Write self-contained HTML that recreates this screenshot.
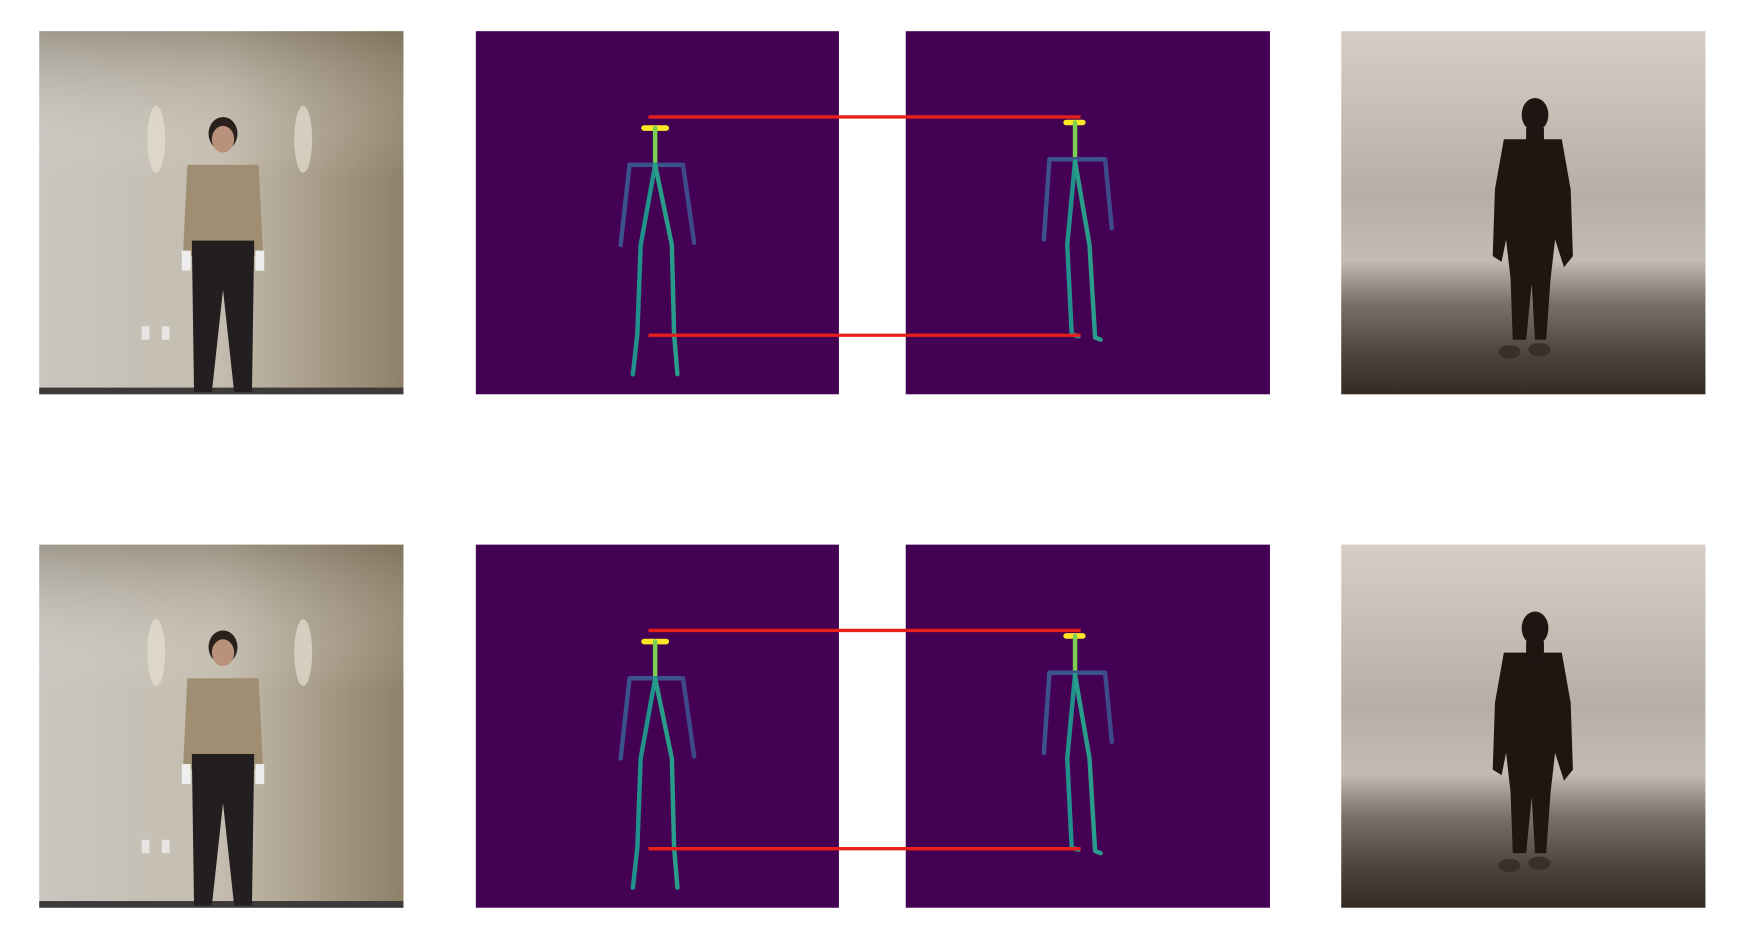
<!DOCTYPE html>
<html><head><meta charset="utf-8"><style>html,body{margin:0;padding:0;background:#fff;width:1738px;height:930px;overflow:hidden}</style></head>
<body>
<svg id="fig" width="1738" height="930" viewBox="0 0 1560 835" xmlns="http://www.w3.org/2000/svg">
<defs>
<linearGradient id="wallH" x1="0" x2="1" y1="0" y2="0"><stop offset="0" stop-color="#c9c6c0"/><stop offset="0.5" stop-color="#c4bcae"/><stop offset="1" stop-color="#8f8068"/></linearGradient>
<linearGradient id="wallV" x1="0" x2="0" y1="0" y2="1"><stop offset="0" stop-color="#6e6350" stop-opacity="0.45"/><stop offset="0.4" stop-color="#fff" stop-opacity="0"/></linearGradient>
<linearGradient id="studio" x1="0" x2="0" y1="0" y2="1"><stop offset="0" stop-color="#d8cdc4"/><stop offset="0.45" stop-color="#b8aea5"/><stop offset="0.63" stop-color="#c5bbb2"/><stop offset="0.75" stop-color="#7a7068"/><stop offset="0.9" stop-color="#4a4138"/><stop offset="1" stop-color="#342b22"/></linearGradient>
</defs>
<g id="rows"></g>
</svg>
<script>
// Panel layout (figure coordinates)
const rowOffsets = [0, 461];
// Skeleton joints for source pose (left) and target pose (right)
const leftPose = {head:[[578,115],[598,115]], neck:[[588,115],[588,148]], shoulders:[[565,148],[613,148]],
  armL:[[565,148],[557,220]], armR:[[613,148],[623,218]],
  legL:[[588,148],[575,220],[572,300],[568,336]], legR:[[588,148],[603,220],[605,300],[608,336]]};
const rightPose = {head:[[957,110],[972,110]], neck:[[965,110],[965,145]], shoulders:[[942,143],[992,143]],
  armL:[[942,143],[937,215]], armR:[[992,143],[998,205]],
  legL:[[965,145],[958,220],[962,300],[968,302]], legR:[[965,145],[978,220],[983,303],[988,305]]};
const lineTopY = 105, lineBotY = 301, lineX0 = 582, lineX1 = 970;
const NS = 'http://www.w3.org/2000/svg';
const root = document.getElementById('rows');
function mk(tag, attrs, parent){const e=document.createElementNS(NS,tag);for(const k in attrs)e.setAttribute(k,attrs[k]);parent.appendChild(e);return e;}
const colors = {head:'#fde725',neck:'#7ad151',shoulders:'#3b528b',armL:'#3b528b',armR:'#3e4a89',legL:'#21918c',legR:'#2a9d8a'};
function pts(a){return a.map(p=>p.join(',')).join(' ');}
rowOffsets.forEach((dy,i)=>{
  const g = mk('g',{transform:'translate(0,'+dy+')'},root);
  
  
  // source photo
  const p1 = mk('g',{},g);
  
  
  mk('rect',{x:35,y:28,width:327,height:326,fill:'url(#wallH)'},p1);
  mk('rect',{x:35,y:28,width:327,height:326,fill:'url(#wallV)'},p1);
  mk('ellipse',{cx:140,cy:125,rx:8,ry:30,fill:'#e6dfd2',opacity:0.7},p1);
  mk('ellipse',{cx:272,cy:125,rx:8,ry:30,fill:'#e6dfd2',opacity:0.7},p1);
  mk('rect',{x:35,y:348,width:327,height:6,fill:'#3e3a3a'},p1);
  mk('rect',{x:127,y:293,width:7,height:12,fill:'#e8e6e2'},p1);
  mk('rect',{x:145,y:293,width:7,height:12,fill:'#e8e6e2'},p1);
  mk('ellipse',{cx:200,cy:120,rx:13,ry:15,fill:'#2a211c'},p1);
  mk('ellipse',{cx:200,cy:125,rx:10,ry:12,fill:'#b8927a'},p1);
  mk('path',{d:'M168 148 L232 148 L236 230 L164 230 Z',fill:'#a08e72'},p1);
  mk('rect',{x:163,y:225,width:8,height:18,fill:'#eeeeee'},p1);
  mk('rect',{x:229,y:225,width:8,height:18,fill:'#eeeeee'},p1);
  mk('path',{d:'M172 216 L228 216 L226 352 L210 352 L200 260 L190 352 L174 352 Z',fill:'#231f21'},p1);
  // source skeleton
  const p2 = mk('g',{},g);
  
  
  mk('rect',{x:427,y:28,width:326,height:326,fill:'#440154'},p2);
  // target skeleton
  const p3 = mk('g',{},g);
  
  
  mk('rect',{x:813,y:28,width:327,height:326,fill:'#440154'},p3);
  [[leftPose,p2],[rightPose,p3]].forEach(([pose,parent])=>{
    for(const k in pose){
      const pl = mk('polyline',{points:pts(pose[k]),fill:'none',stroke:colors[k],'stroke-width':k==='head'?5:4,'stroke-linecap':'round','stroke-linejoin':'round'},parent);
      
      
    }
  });
  // red alignment lines
  [lineTopY,lineBotY].forEach((y,j)=>{
    const l = mk('line',{x1:lineX0,x2:lineX1,y1:y,y2:y,stroke:'#e8201c','stroke-width':3},g);
    
    
  });
  // output photo
  const p4 = mk('g',{},g);
  
  
  mk('rect',{x:1204,y:28,width:327,height:326,fill:'url(#studio)'},p4);
  mk('ellipse',{cx:1378,cy:103,rx:12,ry:15,fill:'#1e1612'},p4);
  mk('path',{d:'M1350 125 L1402 125 L1410 170 L1412 230 L1404 240 L1396 215 L1392 250 L1388 305 L1378 305 L1375 255 L1370 305 L1358 305 L1356 250 L1352 215 L1348 235 L1340 230 L1342 170 Z',fill:'#1f1612'},p4);
  mk('rect',{x:1370,y:115,width:16,height:14,fill:'#1f1612'},p4);
  mk('ellipse',{cx:1355,cy:316,rx:10,ry:6,fill:'#3a302a'},p4);
  mk('ellipse',{cx:1382,cy:314,rx:10,ry:6,fill:'#3a302a'},p4);
});
</script>
</body></html>
